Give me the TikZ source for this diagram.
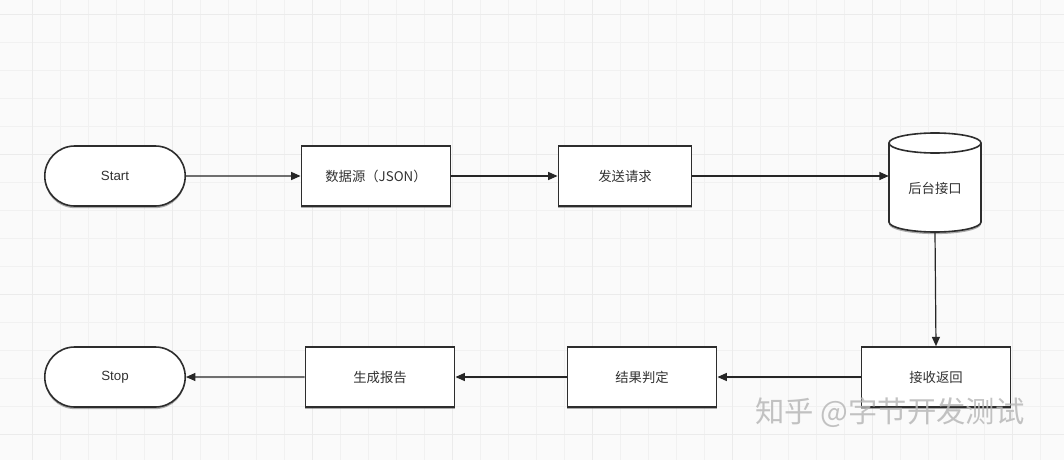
\documentclass[tikz,border=0pt]{standalone}
\usepackage{fontspec}
\setmainfont{Liberation Sans}
\newfontfamily\cjk{Noto Sans CJK SC}
\usetikzlibrary{arrows.meta,shadows,shapes.misc}
\definecolor{bg}{RGB}{250,250,250}
\definecolor{gridc}{RGB}{241,241,241}
\definecolor{ink}{RGB}{45,45,45}
\definecolor{txt}{RGB}{50,50,50}
\tikzset{
  boxshadow/.style={drop shadow={shadow xshift=0pt,shadow yshift=-1.6pt,opacity=0.45,fill=black!70}},
  procbox/.style={draw=ink,line width=1.2pt,fill=white,rectangle,minimum width=112pt,minimum height=45pt,font=\cjk\fontsize{10}{12}\selectfont,text=txt,boxshadow},
  termbox/.style={draw=ink,line width=1.2pt,fill=white,rounded rectangle,minimum width=112pt,minimum height=45pt,font=\fontsize{10}{12}\selectfont,text=txt,boxshadow},
  flow/.style={draw=black!85,line width=0.9pt,-{Triangle[length=7pt,width=6pt]}},
}
\begin{document}
\begin{tikzpicture}[x=0.75pt,y=-0.75pt]
\useasboundingbox (0,0) rectangle (1064,460);
\fill[bg] (0,0) rectangle (1064,460);
\foreach \gx in {32,60,...,1064} \draw[gridc,line width=0.3pt] (\gx,0) -- (\gx,460);
\foreach \gy in {14,42,...,460} \draw[gridc,line width=0.3pt] (0,\gy) -- (1064,\gy);
\foreach \gx in {32,172,...,1064} \draw[black!8,line width=0.5pt] (\gx,0) -- (\gx,460);
\foreach \gy in {14,154,...,460} \draw[black!8,line width=0.5pt] (0,\gy) -- (1064,\gy);

\node[termbox] (start) at (115,176) {Start};
\node[procbox] (src) at (376,176) {数据源（JSON）};
\node[procbox,minimum width=100pt] (send) at (625,176) {发送请求};
% cylinder
\node[minimum width=69pt,minimum height=75pt,inner sep=0pt] (api) at (935,182) {};
\fill[black!70,opacity=0.45,yshift=-1.6pt] (889,143) -- (889,222) arc[start angle=180,end angle=0,x radius=46,y radius=10] -- (981,143) arc[start angle=0,end angle=-180,x radius=46,y radius=10] -- cycle;
\draw[ink,line width=1.2pt,fill=white] (889,143) -- (889,222) arc[start angle=180,end angle=0,x radius=46,y radius=10] -- (981,143) arc[start angle=0,end angle=-180,x radius=46,y radius=10] -- cycle;
\draw[ink,line width=1.2pt] (889,143) arc[start angle=180,end angle=0,x radius=46,y radius=10];
\node[font=\cjk\fontsize{10}{12}\selectfont,text=txt] (apitext) at (935,188) {后台接口};

\node[procbox] (recv) at (936,377) {接收返回};
\node[procbox] (judge) at (642,377) {结果判定};
\node[procbox] (report) at (380,377) {生成报告};
\node[termbox] (stop) at (115,377) {Stop};

\draw[flow] (start) -- (src);
\draw[flow] (src) -- (send);
\draw[flow] (send.east) -- (api.west|-send.east);
\draw[flow] (api.south) -- (recv.north);
\draw[flow] (recv) -- (judge);
\draw[flow] (judge) -- (report);
\draw[flow] (report) -- (stop);

\node[font=\cjk\fontsize{22}{26}\selectfont,text=black!28,opacity=0.85] (wm) at (890,413) {知乎 @字节开发测试};
\end{tikzpicture}
\end{document}
